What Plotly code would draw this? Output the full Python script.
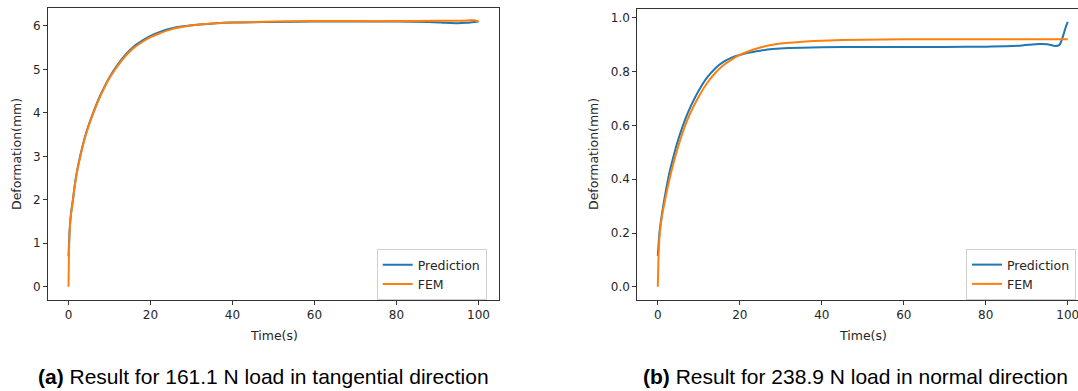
import plotly.graph_objects as go

# ---------------- data ----------------
# (a) tangential, 161.1 N
t_fem_a = [0, 0.1, 0.3, 0.6, 1.1, 1.5, 2, 3, 4, 5, 6, 7, 8, 10, 12, 14, 16, 18, 20,
           22, 25, 28, 32, 36, 40, 50, 60, 70, 80, 90, 96, 98, 99, 100]
fem_a = [0, 0.7, 1.3, 1.65, 2.0, 2.3, 2.6, 3.05, 3.42, 3.72, 3.98, 4.22, 4.43, 4.8, 5.08,
         5.32, 5.5, 5.63, 5.74, 5.82, 5.92, 5.98, 6.03, 6.06, 6.08, 6.1, 6.11, 6.11, 6.11,
         6.12, 6.12, 6.13, 6.13, 6.1]
t_pred_a = [0, 0.3, 0.6, 1.1, 1.5, 2, 3, 4, 5, 6, 7, 8, 10, 12, 14, 16, 18, 20, 22, 25,
            28, 32, 36, 40, 50, 60, 70, 80, 88, 92, 95, 97, 99, 100]
pred_a = [0.7, 1.35, 1.68, 2.02, 2.32, 2.62, 3.07, 3.44, 3.74, 4.0, 4.24, 4.45, 4.82, 5.11,
          5.35, 5.53, 5.66, 5.77, 5.85, 5.94, 5.99, 6.03, 6.06, 6.08, 6.09, 6.1, 6.1, 6.1,
          6.09, 6.07, 6.06, 6.07, 6.09, 6.1]

# (b) normal, 238.9 N
t_fem_b = [0, 0.2, 0.5, 1, 2, 3, 4, 5, 6, 7, 8, 10, 12, 14, 16, 18, 20, 22, 25, 28,
           32, 36, 40, 50, 60, 80, 100]
fem_b = [0, 0.12, 0.2, 0.26, 0.34, 0.41, 0.47, 0.523, 0.57, 0.612, 0.648, 0.708, 0.757,
         0.795, 0.824, 0.845, 0.862, 0.875, 0.89, 0.9, 0.907, 0.912, 0.915, 0.919, 0.92,
         0.92, 0.92]
t_pred_b = [0, 0.4, 1, 2, 3, 4, 5, 6, 7, 8, 10, 12, 14, 16, 18, 20, 22, 25, 28, 32, 40,
            50, 60, 70, 80, 88, 93, 95, 97, 98, 98.8, 99.5, 100]
pred_b = [0.115, 0.2, 0.27, 0.36, 0.435, 0.495, 0.548, 0.594, 0.635, 0.67, 0.73, 0.778,
          0.812, 0.836, 0.852, 0.862, 0.87, 0.878, 0.884, 0.888, 0.891, 0.892, 0.892,
          0.892, 0.893, 0.896, 0.903, 0.902, 0.895, 0.9, 0.93, 0.965, 0.985]

x_ticks = [0, 20, 40, 60, 80, 100]
y_ticks_a = [0, 1, 2, 3, 4, 5, 6]
y_ticks_b = [0.0, 0.2, 0.4, 0.6, 0.8, 1.0]
y_ticktext_b = ["0.0", "0.2", "0.4", "0.6", "0.8", "1.0"]

series_names = ["Prediction", "FEM"]
colors = ["#1f77b4", "#ff7f0e"]
caption_a = "<b>(a)</b> Result for 161.1 N load in tangential direction"
caption_b = "<b>(b)</b> Result for 238.9 N load in normal direction"
x_title = "Time(s)"
y_title = "Deformation(mm)"

# ---------------- figure ----------------
W, H = 1078, 391


def fx(p):
    return p / W


def fy(p):
    return 1 - p / H


FONT = "DejaVu Sans"
TXT = "#262626"

fig = go.Figure()
line_kw = dict(shape="spline", smoothing=0.6, width=2)

fig.add_trace(go.Scatter(x=t_pred_a, y=pred_a, mode="lines", name=series_names[0],
                         line=dict(color=colors[0], **line_kw), xaxis="x", yaxis="y",
                         legend="legend"))
fig.add_trace(go.Scatter(x=t_fem_a, y=fem_a, mode="lines", name=series_names[1],
                         line=dict(color=colors[1], **line_kw), xaxis="x", yaxis="y",
                         legend="legend"))
fig.add_trace(go.Scatter(x=t_pred_b, y=pred_b, mode="lines", name=series_names[0],
                         line=dict(color=colors[0], **line_kw), xaxis="x2", yaxis="y2",
                         legend="legend2"))
fig.add_trace(go.Scatter(x=t_fem_b, y=fem_b, mode="lines", name=series_names[1],
                         line=dict(color=colors[1], **line_kw), xaxis="x2", yaxis="y2",
                         legend="legend2"))

axis_common = dict(showgrid=False, zeroline=False, showline=True, linecolor="#333",
                   linewidth=1, ticks="outside", ticklen=4, tickwidth=1, tickcolor="#333",
                   ticklabeloverflow="allow",
                   tickfont=dict(family=FONT, size=12, color=TXT))

fig.update_layout(
    width=W, height=H, margin=dict(l=0, r=0, t=0, b=0),
    paper_bgcolor="white", plot_bgcolor="white",
    xaxis=dict(domain=[fx(48), fx(499)], range=[-5, 105], tickvals=x_ticks,
               mirror=True, anchor="y", **axis_common),
    yaxis=dict(domain=[fy(300), fy(8.3)], range=[-0.305, 6.405], tickvals=y_ticks_a,
               mirror=True, anchor="x", **axis_common),
    xaxis2=dict(domain=[fx(637.3), 1.0], range=[-5, 102.5], tickvals=x_ticks,
                mirror=True, anchor="y2", **axis_common),
    yaxis2=dict(domain=[fy(300), fy(8.7)], range=[-0.049, 1.034], tickvals=y_ticks_b,
                ticktext=y_ticktext_b, mirror=False, anchor="x2", **axis_common),
    legend=dict(x=fx(376.7), y=fy(249), xanchor="left", yanchor="top",
                bgcolor="rgba(255,255,255,0.8)", bordercolor="#d0d0d0", borderwidth=1,
                font=dict(family=FONT, size=12.5, color=TXT), itemwidth=30),
    legend2=dict(x=fx(966), y=fy(249), xanchor="left", yanchor="top",
                 bgcolor="rgba(255,255,255,0.8)", bordercolor="#d0d0d0", borderwidth=1,
                 font=dict(family=FONT, size=12.5, color=TXT), itemwidth=30),
    showlegend=True,
)

ann_font = dict(family=FONT, size=12.5, color=TXT)
cap_font = dict(family="Liberation Sans, Arial, sans-serif", size=21, color="black")
annotations = [
    dict(text=y_title, x=fx(16), y=fy(154), textangle=-90, font=ann_font),
    dict(text=y_title, x=fx(593), y=fy(154), textangle=-90, font=ann_font),
    dict(text=x_title, x=fx(273.5), y=fy(335), font=ann_font),
    dict(text=x_title, x=fx(862.7), y=fy(335), font=ann_font),
    dict(text=caption_a, x=fx(263), y=fy(376), font=cap_font),
    dict(text=caption_b, x=fx(855), y=fy(376), font=cap_font),
]
for a in annotations:
    a.update(xref="paper", yref="paper", showarrow=False, xanchor="center",
             yanchor="middle")
fig.update_layout(annotations=annotations)

fig.write_html("out.html")
